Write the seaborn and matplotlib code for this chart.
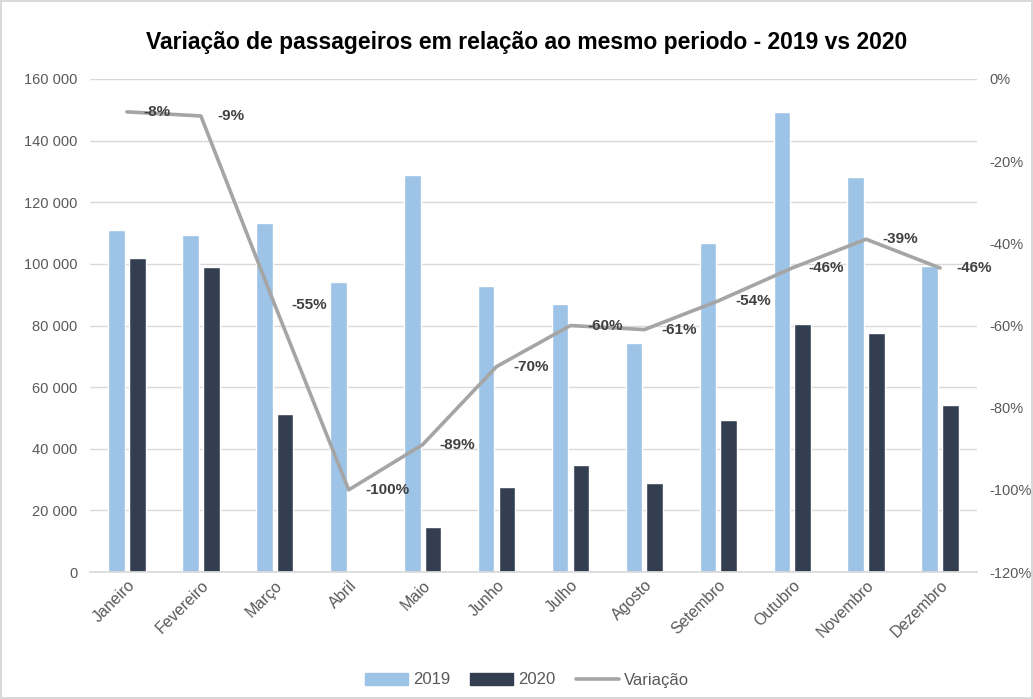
import pandas as pd
import numpy as np
import matplotlib
matplotlib.use("Agg")
import matplotlib.pyplot as plt
import seaborn as sns
from matplotlib.patches import Patch
from matplotlib.lines import Line2D

meses = ["Janeiro", "Fevereiro", "Março", "Abril", "Maio", "Junho", "Julho",
         "Agosto", "Setembro", "Outubro", "Novembro", "Dezembro"]
pass_2019 = [110900, 109400, 113300, 94050, 128950, 92850, 87000, 74250,
             106900, 149400, 128100, 99430]
pass_2020 = [101830, 99100, 51240, 0, 14690, 27440, 34700, 28860,
             49390, 80430, 77700, 54160]
variacao = [-8, -9, -55, -100, -89, -70, -60, -61, -54, -46, -39, -46]

sns.set_theme(style="white")
plt.rcParams['font.family'] = ['Liberation Sans', 'DejaVu Sans']

df = pd.DataFrame({
    "Mes": meses * 2,
    "Passageiros": pass_2019 + pass_2020,
    "Ano": ["2019"] * 12 + ["2020"] * 12,
})

cor_2019 = "#9DC3E6"
cor_2020 = "#333F50"
cor_var = "#A5A5A5"
cinza = "#595959"

fig = plt.figure(figsize=(10.33, 6.99), dpi=100)
fig.patch.set_edgecolor("#D9D9D9")
fig.patch.set_linewidth(1.5)
ax = fig.add_axes([90 / 1033, 1 - 572 / 699, 887 / 1033, 493 / 699])

sns.barplot(data=df, x="Mes", y="Passageiros", hue="Ano", order=meses,
            palette=[cor_2019, cor_2020], width=0.56, gap=0.2,
            saturation=1, ax=ax, legend=False)

ax.set_ylim(0, 160000)
ax.set_yticks(np.arange(0, 160001, 20000))
ax.set_yticklabels([f"{v:,}".replace(",", " ") for v in range(0, 160001, 20000)])
ax.set_xlim(-0.5, 11.5)
ax.yaxis.grid(True, color="#D9D9D9", linewidth=1)
ax.set_axisbelow(True)
for s in ["top", "right", "left"]:
    ax.spines[s].set_visible(False)
ax.spines["bottom"].set_color("#D9D9D9")
ax.set_xlabel("")
ax.set_ylabel("")
ax.tick_params(axis="y", labelsize=10.5, colors=cinza, length=0, pad=9)
ax.tick_params(axis="x", labelsize=11.5, colors=cinza, length=0, pad=4)
plt.setp(ax.get_xticklabels(), rotation=45, ha="right", rotation_mode="anchor")

ax2 = ax.twinx()
sns.lineplot(x=np.arange(12), y=variacao, color=cor_var, linewidth=2.6, ax=ax2)
ax2.set_ylim(-120, 0)
ax2.set_yticks(np.arange(-120, 1, 20))
ax2.set_yticklabels([f"{v}%" for v in range(-120, 1, 20)])
ax2.tick_params(axis="y", labelsize=10.5, colors=cinza, length=0, pad=9)
for s in ax2.spines.values():
    s.set_visible(False)

for i, v in enumerate(variacao):
    ax2.annotate(f"{v}%", (i, v), xytext=(12, 0), textcoords="offset points",
                 ha="left", va="center", fontsize=11, fontweight="bold",
                 color="#404040")

fig.text(0.51, 1 - 43 / 699, "Variação de passageiros em relação ao mesmo periodo - 2019 vs 2020",
         ha="center", va="center", fontsize=16.5, fontweight="bold", color="black")

handles = [Patch(color=cor_2019, label="2019"),
           Patch(color=cor_2020, label="2020"),
           Line2D([0], [0], color=cor_var, linewidth=2.6, label="Variação")]
fig.legend(handles=handles, loc="center", bbox_to_anchor=(0.51, 1 - 680 / 699),
           ncol=3, frameon=False, fontsize=12, labelcolor=cinza,
           handlelength=2.6, handleheight=0.7, columnspacing=1.2, handletextpad=0.3)

fig.savefig("out.png", dpi=100)
